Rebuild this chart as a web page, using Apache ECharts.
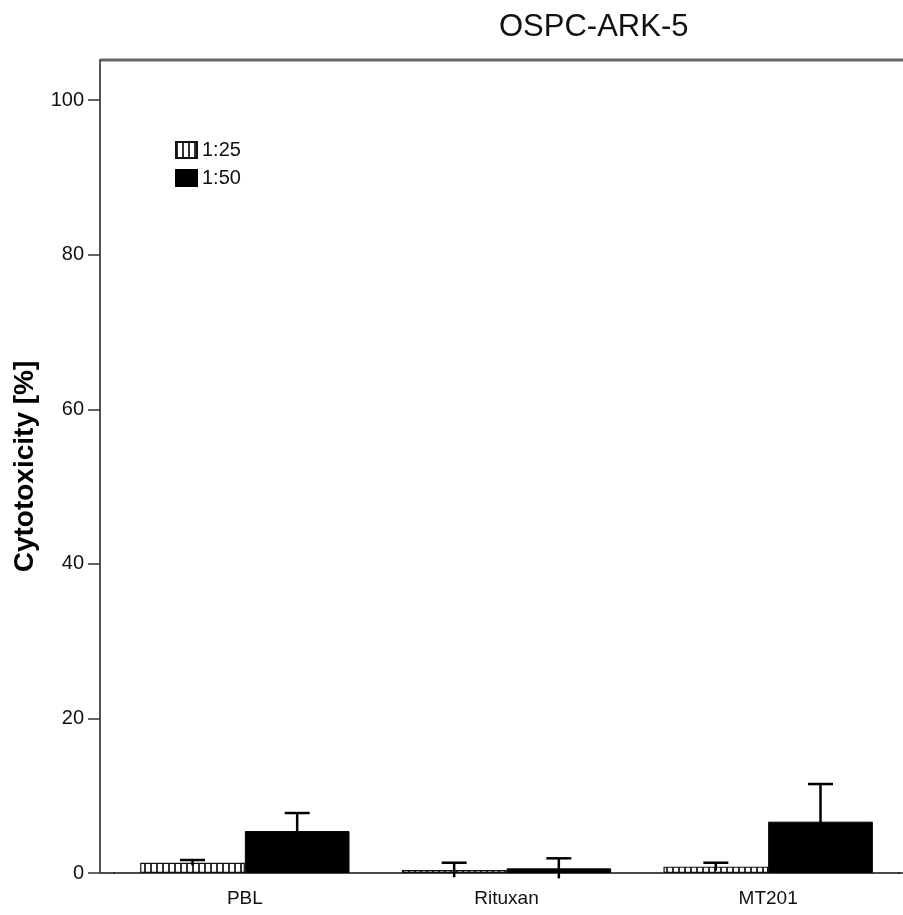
<!DOCTYPE html>
<html>
<head>
<meta charset="utf-8">
<title>OSPC-ARK-5</title>
<script src="https://cdn.jsdelivr.net/npm/echarts@6/dist/echarts.min.js"></script>
<style>
    html, body {margin: 0; padding: 0; background: #fff;}
    #cyto-bar {width: 903px; height: 915px;}
</style>
</head>
<body>
<div id="cyto-bar"></div>
<script>
let categories = ['PBL', 'Rituxan', 'MT201'];
let seriesNames = ['1:25', '1:50'];
let mean125 = [1.33, 0.39, 0.82];
let mean150 = [5.43, 0.6, 6.64];
let err125 = [0.35, 0.94, 0.51];
let err150 = [2.33, 1.3, 4.87];
let yTicks = [0, 20, 40, 60, 80, 100];

function stripePattern() {
    let c = document.createElement('canvas');
    c.width = 6;
    c.height = 6;
    let ctx = c.getContext('2d');
    ctx.fillStyle = '#fff';
    ctx.fillRect(0, 0, 6, 6);
    ctx.fillStyle = '#333';
    ctx.fillRect(0, 0, 2, 6);
    return c;
}

// error whisker drawn next to its bar (k = 0 left bar, 1 right bar)
function errorRenderer(k) {
    return function (params, api) {
        let ci = api.value(0),
            mean = api.value(1),
            err = api.value(2);
        let band = api.size([1, 0])[0];
        let barW = band * 0.4;
        let x = api.coord([ci, mean])[0] + (k - 0.5) * barW;
        let yTop = api.coord([ci, mean + err])[1];
        let yLow = api.coord([ci, mean - err])[1];
        let style = {stroke: '#000', lineWidth: 2.5};
        return {
            type: 'group',
            children: [
                {type: 'line', shape: {x1: x, y1: yLow, x2: x, y2: yTop}, style: style},
                {type: 'line', shape: {x1: x - 12.5, y1: yTop, x2: x + 12.5, y2: yTop}, style: style}
            ]
        };
    };
}

function errData(means, errs) {
    return means.map(function (m, i) {
        return [i, m, errs[i]];
    });
}

let chartDom = document.getElementById('cyto-bar');
let myChart = echarts.init(chartDom);
let option = {
    animation: false,
    title: {
        text: 'OSPC-ARK-5',
        left: 499,
        top: 12,
        padding: 0,
        textStyle: {
            fontFamily: 'Liberation Sans',
            fontSize: 31,
            fontWeight: 'normal',
            color: '#111'
        }
    },
    legend: {
        orient: 'vertical',
        left: 175,
        top: 140,
        padding: 0,
        icon: 'rect',
        itemWidth: 21,
        itemHeight: 16,
        itemGap: 8,
        data: seriesNames,
        textStyle: {
            fontFamily: 'Liberation Sans',
            fontSize: 20,
            color: '#111'
        }
    },
    grid: {
        left: 114,
        right: 4,
        top: 60,
        bottom: 42
    },
    xAxis: {
        type: 'category',
        data: categories,
        axisLine: {lineStyle: {color: '#111', width: 1.5}},
        axisTick: {alignWithLabel: true, length: 12, lineStyle: {color: '#111', width: 1.5}},
        axisLabel: {
            margin: 16,
            fontFamily: 'Liberation Sans',
            fontSize: 19,
            color: '#111'
        }
    },
    yAxis: {
        type: 'value',
        min: yTicks[0],
        max: 105.2,
        interval: yTicks[1] - yTicks[0],
        offset: 14,
        name: 'Cytotoxicity [%]',
        nameLocation: 'middle',
        nameGap: 60,
        nameTextStyle: {
            fontFamily: 'Liberation Sans',
            fontWeight: 'bold',
            fontSize: 28,
            color: '#000'
        },
        axisLine: {show: true, lineStyle: {color: '#555', width: 2}},
        axisTick: {show: true, length: 12, lineStyle: {color: '#333', width: 1.5}},
        splitLine: {show: false},
        axisLabel: {
            margin: 16,
            showMaxLabel: false,
            fontFamily: 'Liberation Sans',
            fontSize: 20,
            color: '#111'
        }
    },
    graphic: [
        {type: 'line', shape: {x1: 100, y1: 60, x2: 903, y2: 60}, style: {stroke: '#666', lineWidth: 3}},
        {type: 'line', shape: {x1: 100, y1: 873, x2: 115, y2: 873}, style: {stroke: '#111', lineWidth: 1.5}},
        {type: 'line', shape: {x1: 898, y1: 873, x2: 903, y2: 873}, style: {stroke: '#111', lineWidth: 1.5}}
    ],
    series: [
        {
            name: seriesNames[0],
            type: 'bar',
            barWidth: '40%',
            barGap: '0%',
            data: mean125,
            itemStyle: {
                color: {image: stripePattern(), repeat: 'repeat'},
                borderColor: '#111',
                borderWidth: 1.2
            }
        },
        {
            name: seriesNames[1],
            type: 'bar',
            barWidth: '40%',
            barGap: '0%',
            data: mean150,
            itemStyle: {
                color: '#000',
                borderColor: '#000',
                borderWidth: 1
            }
        },
        {
            type: 'custom',
            renderItem: errorRenderer(0),
            data: errData(mean125, err125),
            z: 5
        },
        {
            type: 'custom',
            renderItem: errorRenderer(1),
            data: errData(mean150, err150),
            z: 5
        }
    ]
};
option && myChart.setOption(option);
</script>
</body>
</html>
